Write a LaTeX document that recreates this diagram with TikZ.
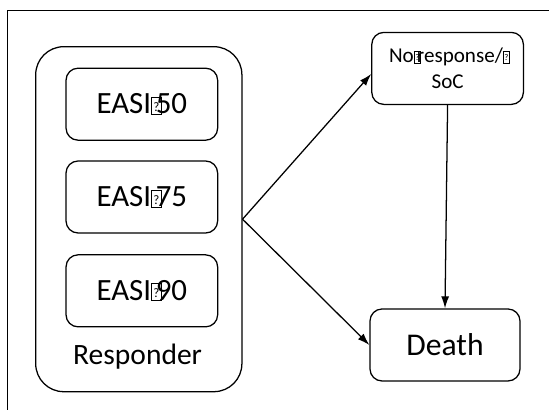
\documentclass[tikz,border=0pt]{standalone}
\usepackage{fontspec}
\setmainfont{Carlito}
\usepackage{tikz}
\usetikzlibrary{arrows.meta}
% placeholder glyph box, as printed in the figure
\newcommand\tofu{\makebox[0.15em][l]{\setlength\fboxsep{0pt}\setlength\fboxrule{0.03em}%
  \fbox{\makebox[0.28em]{\rule{0pt}{0.52em}\raisebox{0.08em}{\scalebox{0.42}{?}}}}}}
\tikzset{
  outerbox/.style={draw, line width=0.9pt, rounded corners=0.7cm,
                   minimum width=5.155cm, minimum height=8.625cm},
  easibox/.style={draw, line width=0.9pt, rounded corners=0.3cm,
                  minimum width=3.79cm, minimum height=1.8cm,
                  font=\fontsize{22}{26}\selectfont},
  statebox/.style={draw, line width=0.9pt, rounded corners=0.3cm,
                   minimum height=1.8cm, align=center},
  flow/.style={line width=0.9pt, -{Latex[length=3mm,width=2mm]}},
}

\begin{document}
\begin{tikzpicture}
        \useasboundingbox (0,0) rectangle (13.725,10.25);
        % open frame: left and top edges only
        \draw[line width=0.8pt] (0.19,0) -- (0.19,9.98) -- (13.725,9.98);
        % responder group
        \node[outerbox] (resp) at (3.47,4.77) {};
        \node[easibox] (easi50) at (3.546,7.645) {EASI\tofu 50};
        \node[easibox] (easi75) at (3.546,5.325) {EASI\tofu 75};
        \node[easibox] (easi90) at (3.546,2.979) {EASI\tofu 90};
        \node[anchor=base, font=\fontsize{21}{25}\selectfont] (resplabel) at (3.44,1.125) {Responder};
        % other states
        \node[statebox, minimum width=3.79cm, font=\fontsize{15}{18.5}\selectfont]
          (noresp) at (11.19,8.54) {No\tofu response/\tofu\\SoC};
        \node[statebox, minimum width=3.75cm, font=\fontsize{22.5}{26}\selectfont]
          (death) at (11.125,1.625) {Death};
        % transitions
        \draw[flow] (resp.east) -- ([yshift=-0.14cm]noresp.west);
        \draw[flow] (resp.east) -- (death.west);
        \draw[flow] (noresp.south) -- (death.north);
\end{tikzpicture}
\end{document}
